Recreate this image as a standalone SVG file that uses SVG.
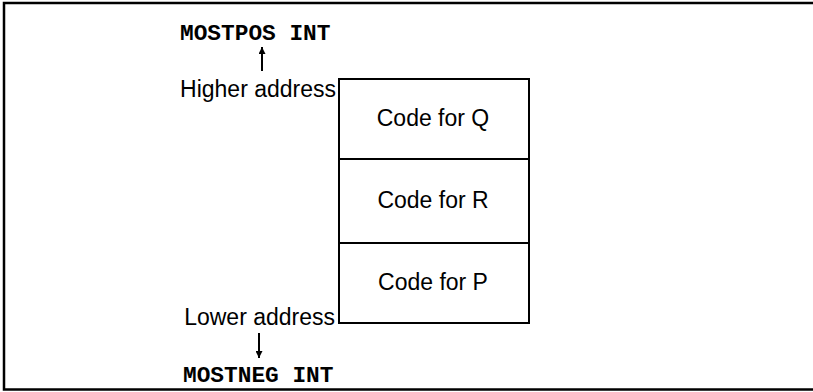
<svg xmlns="http://www.w3.org/2000/svg" width="813" height="392" viewBox="0 0 813 392">
<defs>
<style>
.frame{fill:none;stroke:#000;stroke-width:2.5}
.box{fill:#fff;stroke:#000;stroke-width:2}
.lbl{font-family:"Liberation Sans",Arial,sans-serif;font-size:23px;fill:#000}
.mono{font-family:"Liberation Mono","Courier New",monospace;font-size:22.8px;font-weight:bold;fill:#000}
.conn{stroke:#000;stroke-width:2;fill:none}
</style>
<marker id="ah" viewBox="0 0 10 10" refX="10" refY="5" markerWidth="11" markerHeight="7" markerUnits="userSpaceOnUse" orient="auto">
<path d="M0,0 L10,5 L0,10 z" fill="#000"/>
</marker>
</defs>
<rect width="813" height="392" fill="#fff"/>
<path class="frame" d="M813,3 L4,3 L4,389.5 L813,389.5"/>
<g id="mostpos"><text class="mono" x="180" y="40">MOSTPOS INT</text></g>
<g id="higher"><text class="lbl" x="336" y="97" text-anchor="end">Higher address</text></g>
<g id="code-q"><rect class="box" x="339" y="79" width="190" height="80"/><text class="lbl" x="433" y="126" text-anchor="middle">Code for Q</text></g>
<g id="code-r"><rect class="box" x="339" y="159" width="190" height="84"/><text class="lbl" x="433" y="208" text-anchor="middle">Code for R</text></g>
<g id="code-p"><rect class="box" x="339" y="243" width="190" height="80"/><text class="lbl" x="433" y="290" text-anchor="middle">Code for P</text></g>
<g id="lower"><text class="lbl" x="335" y="325" text-anchor="end">Lower address</text></g>
<g id="mostneg"><text class="mono" x="183" y="382">MOSTNEG INT</text></g>
<g id="connectors">
<line class="conn" x1="262" y1="71" x2="262" y2="47" marker-end="url(#ah)"/>
<line class="conn" x1="259" y1="333" x2="259" y2="358" marker-end="url(#ah)"/>
</g>
</svg>
